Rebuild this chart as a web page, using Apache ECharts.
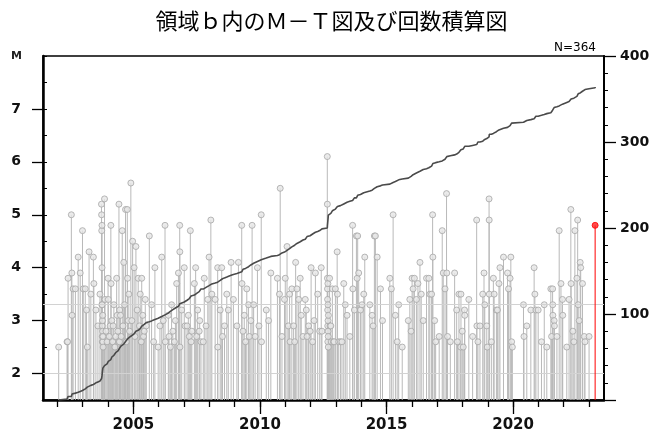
<!DOCTYPE html>
<html><head><meta charset="utf-8">
<script src="https://cdn.jsdelivr.net/npm/echarts@6/dist/echarts.min.js"></script>
<style>html,body{margin:0;padding:0;background:#fff}#c{width:663px;height:436px}</style>
</head><body><div id="c"></div>
<script>
// ---- data: [decimal year, magnitude] ----
const q2002 = [[2002.05,2.5],[2002.38,2.6],[2002.40,2.6],[2002.42,3.8],[2002.55,5.0],[2002.57,3.9],[2002.58,3.1],[2002.62,3.6],[2002.71,3.6],[2002.82,4.2],[2002.90,3.9],[2002.99,4.7]];
const q2003 = [[2003.02,3.6],[2003.10,3.6],[2003.15,3.2],[2003.18,2.5],[2003.25,4.3],[2003.32,3.5],[2003.42,4.2],[2003.44,3.7],[2003.52,3.2],[2003.60,2.9],[2003.68,3.5],
  [2003.74,5.2],[2003.745,5.0],[2003.75,4.7],[2003.755,3.3],[2003.76,4.8],[2003.762,4.0],[2003.765,3.3],[2003.77,2.9],[2003.772,2.7],[2003.775,2.6],[2003.78,3.0],[2003.785,2.8],[2003.79,3.1],[2003.795,2.6],[2003.80,2.7],[2003.805,2.5],
  [2003.86,5.3],[2003.88,3.4],[2003.92,2.8],[2003.96,2.6]];
const q2004 = [[2004.00,3.8],[2004.01,3.4],[2004.05,2.7],[2004.08,2.9],[2004.11,4.8],[2004.12,3.7],[2004.15,3.0],[2004.18,2.6],[2004.20,2.9],[2004.23,3.3],[2004.27,2.5],[2004.30,2.7],[2004.34,3.8],[2004.36,3.1],[2004.39,2.8],[2004.43,5.2],[2004.45,2.6],[2004.46,3.2],
  [2004.49,3.1],[2004.52,2.7],[2004.56,4.7],[2004.59,2.9],[2004.62,4.1],[2004.65,3.3],[2004.69,5.1],[2004.72,2.6],[2004.76,5.1],[2004.77,3.8],[2004.80,3.0],[2004.82,3.5],[2004.85,2.8],
  [2004.90,5.6],[2004.94,3.0],[2004.97,4.5]];
const q2005 = [[2005.03,4.0],[2005.06,2.7],[2005.10,4.4],[2005.15,3.2],[2005.19,3.8],[2005.24,2.9],[2005.27,3.5],[2005.31,2.6],[2005.33,3.8],[2005.37,3.1],[2005.40,2.7],[2005.43,2.8],[2005.47,3.4],[2005.51,2.9],
  [2005.63,4.6],[2005.72,3.3],[2005.80,2.6],[2005.85,4.0],[2005.98,2.5]];
const q2006 = [[2006.05,2.9],[2006.12,4.2],[2006.18,3.0],[2006.25,4.8],[2006.26,2.6],[2006.38,3.1],[2006.41,2.7],[2006.46,2.5],[2006.51,3.3],[2006.56,2.8],[2006.62,2.6],[2006.66,3.0],[2006.71,3.7],
  [2006.78,3.9],[2006.83,4.8],[2006.835,4.3],[2006.84,2.5],[2006.91,3.2]];
const q2007 = [[2007.01,4.0],[2007.04,2.9],[2007.12,2.9],[2007.17,3.1],[2007.21,2.7],[2007.25,4.7],[2007.28,2.6],[2007.31,2.8],[2007.41,3.7],[2007.46,4.0],[2007.50,2.7],[2007.54,3.2],[2007.60,2.8],[2007.62,3.0],
  [2007.67,2.6],[2007.76,2.6],[2007.80,3.8],[2007.87,2.9],[2007.94,3.4],[2007.99,4.2]];
const q2008 = [[2008.06,4.9],[2008.10,3.5],[2008.23,3.4],[2008.33,4.0],[2008.335,2.5],[2008.43,3.2],[2008.49,4.0],[2008.52,2.7],[2008.60,2.9],[2008.69,3.5],[2008.75,3.2],[2008.86,4.1],[2008.95,3.4]];
const q2009 = [[2009.09,2.9],[2009.15,4.1],[2009.28,4.8],[2009.29,3.7],[2009.33,2.8],[2009.38,3.1],[2009.43,2.6],[2009.48,3.6],[2009.55,3.3],[2009.58,2.7],
  [2009.64,3.0],[2009.69,4.8],[2009.75,3.3],[2009.81,2.7],[2009.90,4.0],[2009.96,2.9]];
const q2010 = [[2010.05,5.0],[2010.06,2.6],[2010.25,3.2],[2010.34,3.0],[2010.43,3.9],[2010.69,3.8],[2010.77,3.5],[2010.80,5.5],[2010.87,2.7],[2010.97,3.4]];
const q2011 = [[2011.00,3.8],[2011.07,4.4],[2011.12,2.9],[2011.17,3.5],[2011.19,2.6],[2011.26,3.6],[2011.33,2.9],[2011.37,2.6],[2011.41,4.1],[2011.46,3.6],[2011.53,3.4],
  [2011.59,3.8],[2011.63,3.1],[2011.70,2.7],[2011.79,3.4],[2011.83,3.2],[2011.86,2.7],[2011.92,2.9],[2011.98,2.8]];
const q2012 = [[2012.02,4.0],[2012.08,2.6],[2012.14,3.0],[2012.19,3.9],[2012.28,3.5],[2012.36,2.8],[2012.42,4.0],[2012.45,2.8],
  [2012.660,6.1],[2012.663,5.2],[2012.666,3.8],[2012.669,3.6],[2012.672,3.4],[2012.675,3.2],[2012.678,2.9],[2012.681,2.6],[2012.684,3.7],[2012.687,3.3],[2012.690,3.0],[2012.693,2.8],[2012.696,2.7],[2012.699,2.5],[2012.702,3.1],
  [2012.75,3.8],[2012.77,2.9],[2012.80,2.9],[2012.82,2.6],[2012.86,3.6],[2012.90,2.6],[2012.93,2.6],[2012.98,3.6]];
const q2013 = [[2013.05,4.3],[2013.06,3.5],[2013.11,2.6],[2013.18,2.6],[2013.24,2.6],[2013.31,3.7],[2013.37,3.3],[2013.44,3.1],[2013.55,2.7],[2013.66,4.8],[2013.67,3.6],
  [2013.73,3.2],[2013.81,4.6],[2013.84,3.8],[2013.86,4.6],[2013.90,3.9],[2013.97,3.2]];
const q2014 = [[2014.03,3.3],[2014.10,3.5],[2014.14,4.2],[2014.34,3.3],[2014.43,3.1],[2014.47,2.9],[2014.52,4.6],[2014.56,4.6],[2014.63,4.2],[2014.76,3.6],[2014.84,3.0]];
const q2015 = [[2015.13,3.8],[2015.19,3.6],[2015.26,5.0],[2015.35,3.1],[2015.42,2.6],[2015.48,3.3],[2015.62,2.5],[2015.86,3.0],[2015.92,3.4],[2015.97,2.8]];
const q2016 = [[2016.01,3.8],[2016.05,3.6],[2016.10,3.8],[2016.18,3.4],[2016.24,3.7],[2016.32,4.1],[2016.37,3.5],[2016.45,3.0],[2016.58,3.8],
  [2016.67,3.8],[2016.71,3.5],[2016.78,3.5],[2016.82,5.0],[2016.83,4.2],[2016.90,3.0],[2016.94,2.6]];
const q2017 = [[2017.08,2.7],[2017.20,4.7],[2017.24,3.9],[2017.31,3.6],[2017.37,5.4],[2017.38,3.9],[2017.41,2.7],[2017.52,2.6],[2017.69,3.9],[2017.77,3.2],[2017.80,2.6],
  [2017.86,3.5],[2017.93,2.5],[2017.94,3.5],[2017.99,2.8]];
const q2018 = [[2018.03,2.5],[2018.08,3.2],[2018.09,3.1],[2018.25,3.4],[2018.40,2.7],[2018.56,4.9],[2018.57,2.9],[2018.61,2.6],[2018.69,2.9],[2018.80,3.5],[2018.85,3.9],[2018.88,3.3],[2018.96,2.9],[2018.98,2.5]];
const q2019 = [[2019.05,5.3],[2019.055,4.9],[2019.06,3.5],[2019.14,2.6],[2019.22,3.8],[2019.25,3.5],[2019.34,3.2],[2019.38,3.2],[2019.44,3.7],[2019.48,4.0],[2019.62,4.2],
  [2019.78,3.9],[2019.82,3.6],[2019.88,3.8],[2019.91,4.2],[2019.94,2.6],[2019.97,2.5]];
const q2020 = [[2020.41,3.3],[2020.43,2.7],[2020.54,2.9],[2020.70,3.2],[2020.83,4.0],[2020.86,3.5],[2020.90,3.2],[2020.99,3.2]];
const q2021 = [[2021.12,2.6],[2021.23,3.3],[2021.33,2.5],[2021.49,3.6],[2021.52,2.7],[2021.56,3.6],[2021.565,3.3],[2021.57,3.1],[2021.62,3.0],[2021.63,2.9],[2021.73,2.7],[2021.82,4.7],[2021.89,3.7],[2021.95,3.4],[2021.96,3.1]];
const q2022 = [[2022.12,2.5],[2022.21,3.4],[2022.28,5.1],[2022.29,3.7],[2022.36,2.8],[2022.40,2.6],[2022.44,4.7],[2022.52,3.8],[2022.55,4.9],[2022.57,3.3],[2022.61,3.0],[2022.65,4.1],[2022.67,4.0],[2022.74,3.7],[2022.81,2.7],[2022.84,2.6]];
const q2023 = [[2023.00,2.7]];
const latestEvent = [[2023.24,4.8]];

const refLevels = [2.0, 3.3];           // faint horizontal reference lines (M)
const xRange = [2001.43, 2023.59];       // time axis extent
const mRange = [1.5, 8];                 // magnitude axis extent
const countRange = [0, 400];             // cumulative count axis extent
const mLabels = [2, 7];                  // labelled magnitudes
const yearTicks = [2002, 2023];          // yearly ticks
const yearLabels = [2005, 2020];         // labelled years (every 5)

const events = [].concat(q2002,q2003,q2004,q2005,q2006,q2007,q2008,q2009,q2010,q2011,q2012,q2013,q2014,q2015,q2016,q2017,q2018,q2019,q2020,q2021,q2022,q2023).sort((a,b)=>a[0]-b[0]);
const allEvents = events.concat(latestEvent);
const cumulative = [[allEvents[0][0], 0]].concat(allEvents.map((e,i)=>[e[0], i+1]));

// ---- layout ----
const W = 663, H = 436;
const plot = {left: 43, right: 604, top: 56, bottom: 400};
const pxX = v => plot.left + (v - xRange[0]) / (xRange[1] - xRange[0]) * (plot.right - plot.left);
const pxY = v => plot.bottom - (v - mRange[0]) / (mRange[1] - mRange[0]) * (plot.bottom - plot.top);
const FONT = 'DejaVu Sans';

const chart = echarts.init(document.getElementById('c'), null, {renderer: 'canvas'});

function stem(color) {
  return function (params, api) {
    const t = api.value(0), m = api.value(1);
    const p0 = api.coord([t, mRange[0]]), p1 = api.coord([t, m]);
    return {type: 'line', shape: {x1: p0[0], y1: p0[1], x2: p1[0], y2: p1[1]}, style: {stroke: color, lineWidth: 1}};
  };
}

const hiddenAxis = {show: false, min: 0, max: 1, axisLine: {onZero: false}};
const numLabel = {fontFamily: FONT, fontSize: 14, fontWeight: 'bold', color: '#111'};
chart.setOption({
  animation: false,
  backgroundColor: '#fff',
  title: [
    {text: '領域ｂ内のＭ－Ｔ図及び回数積算図', left: 'center', top: 5,
     textStyle: {fontFamily: 'Noto Sans CJK JP', fontSize: 22, fontWeight: 'normal', color: '#000'}},
    {text: 'N=' + allEvents.length, right: W - plot.right + 3, top: 37,
     textStyle: {fontFamily: FONT, fontSize: 12, fontWeight: 'normal', color: '#000'}}
  ],
  grid: [
    {left: plot.left, right: W - plot.right, top: plot.top, bottom: H - plot.bottom, show: true, borderColor: '#000', borderWidth: 1.5, backgroundColor: 'transparent', outerBoundsMode: 'none'},
    {left: plot.left, right: W - plot.right, top: pxY(mLabels[1]), bottom: H - pxY(mLabels[0]), outerBoundsMode: 'none'},
    {left: pxX(yearTicks[0]), right: W - pxX(yearTicks[1]), top: plot.top, bottom: H - plot.bottom, outerBoundsMode: 'none'},
    {left: pxX(yearLabels[0]), right: W - pxX(yearLabels[1]), top: plot.top, bottom: H - plot.bottom, outerBoundsMode: 'none'}
  ],
  xAxis: [
    {type: 'value', gridIndex: 0, min: xRange[0], max: xRange[1], position: 'bottom',
     axisLine: {show: true, onZero: false, lineStyle: {color: '#000', width: 2.5}},
     axisTick: {show: false}, axisLabel: {show: false}, splitLine: {show: false}},
    Object.assign({type: 'value', gridIndex: 1}, hiddenAxis),
    {type: 'value', gridIndex: 2, min: yearTicks[0], max: yearTicks[1], interval: 1, position: 'bottom',
     axisLine: {show: false, onZero: false}, axisTick: {show: true, length: 7, lineStyle: {color: '#000', width: 1.3}},
     axisLabel: {show: false}, splitLine: {show: false}},
    {type: 'value', gridIndex: 3, min: yearLabels[0], max: yearLabels[1], interval: 5, position: 'bottom',
     axisLine: {show: false, onZero: false}, axisTick: {show: true, length: 14, lineStyle: {color: '#000', width: 1.3}},
     axisLabel: Object.assign({show: true, margin: 18, formatter: v => String(v)}, numLabel, {fontSize: 15}), splitLine: {show: false}}
  ],
  yAxis: [
    {type: 'value', gridIndex: 0, min: mRange[0], max: mRange[1], interval: 0.5, position: 'left',
     axisLine: {show: true, onZero: false, lineStyle: {color: '#000', width: 2.5}},
     axisTick: {show: true, inside: true, length: 4, lineStyle: {color: '#000', width: 1}},
     axisLabel: {show: true, margin: 21, fontFamily: FONT, fontSize: 11, fontWeight: 'bold', color: '#222', formatter: v => v === mRange[1] ? 'M' : ''},
     splitLine: {show: false}},
    {type: 'value', gridIndex: 0, min: countRange[0], max: countRange[1], interval: 100, position: 'right',
     axisLine: {show: true, onZero: false, lineStyle: {color: '#000', width: 2}},
     axisTick: {show: true, length: 12, lineStyle: {color: '#000', width: 1.3}},
     minorTick: {show: true, splitNumber: 5, length: 4, lineStyle: {color: '#000', width: 1}},
     axisLabel: Object.assign({show: true, margin: 16, formatter: v => v === 0 ? '' : String(v)}, numLabel),
     splitLine: {show: false}, minorSplitLine: {show: false}},
    {type: 'value', gridIndex: 1, min: mLabels[0], max: mLabels[1], interval: 1, position: 'left',
     axisLine: {show: false, onZero: false}, axisTick: {show: true, length: 11, lineStyle: {color: '#000', width: 1.3}},
     axisLabel: Object.assign({show: true, margin: 22}, numLabel), splitLine: {show: false}},
    Object.assign({type: 'value', gridIndex: 2}, hiddenAxis),
    Object.assign({type: 'value', gridIndex: 3}, hiddenAxis)
  ],
  series: [
    {type: 'custom', name: 'stems', xAxisIndex: 0, yAxisIndex: 0, data: events, renderItem: stem('#b9b9b9'), clip: true, silent: true, z: 2,
     encode: {x: 0, y: 1}},
    {type: 'scatter', name: 'events', xAxisIndex: 0, yAxisIndex: 0, data: events, symbol: 'circle', symbolSize: 6, silent: true, z: 3,
     itemStyle: {color: '#e6e6e6', borderColor: '#a6a6a6', borderWidth: 1},
     markLine: {silent: true, symbol: 'none', label: {show: false},
       lineStyle: {color: '#d2d2d2', width: 1, type: 'solid'}, data: refLevels.map(v => ({yAxis: v}))}},
    {type: 'line', name: 'cumulative', xAxisIndex: 0, yAxisIndex: 1, data: cumulative, step: 'end', showSymbol: false, silent: true, z: 5,
     lineStyle: {color: '#4a4a4a', width: 1.6}},
    {type: 'custom', name: 'latestStem', xAxisIndex: 0, yAxisIndex: 0, data: latestEvent, renderItem: stem('#ff0000'), clip: true, silent: true, z: 6,
     encode: {x: 0, y: 1}},
    {type: 'scatter', name: 'latest', xAxisIndex: 0, yAxisIndex: 0, data: latestEvent, symbol: 'circle', symbolSize: 6, silent: true, z: 7,
     itemStyle: {color: '#ff2020', borderColor: '#ff0000', borderWidth: 1}}
  ]
});
</script></body></html>
